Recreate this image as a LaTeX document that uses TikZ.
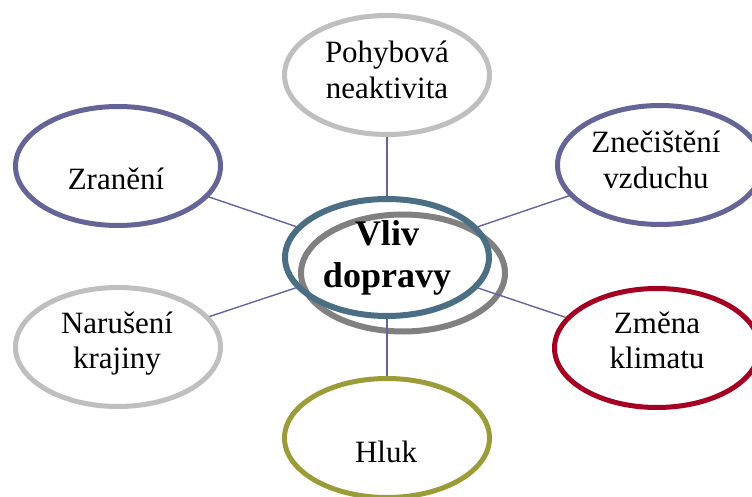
\documentclass[tikz,border=0pt]{standalone}
\usepackage{fontspec}
\setmainfont{Liberation Serif}
\usetikzlibrary{shapes.geometric}
\definecolor{cpurple}{HTML}{646496}
\definecolor{cline}{HTML}{6464A0}
\definecolor{cblue}{HTML}{4A6F85}
\definecolor{cgrey}{HTML}{808080}
\definecolor{clight}{HTML}{BFBFBF}
\definecolor{cred}{HTML}{A50021}
\definecolor{colive}{HTML}{9B9B37}
\tikzset{
  oval/.style={ellipse, draw=#1, line width=5pt, minimum width=205pt, minimum height=119pt, inner sep=0pt, fill=none},
  coreoval/.style={ellipse, draw=#1, line width=6pt, minimum width=204pt, minimum height=117pt, inner sep=0pt},
  lbl/.style={anchor=base, inner sep=0pt, font=\fontsize{31}{35.5}\selectfont},
  corelbl/.style={anchor=base, inner sep=0pt, font=\fontsize{36}{42}\selectfont\bfseries},
  conn/.style={draw=cline, line width=1.4pt}
}
\begin{document}
\begin{tikzpicture}[x=1pt,y=-1pt]
\useasboundingbox (0,0) rectangle (752,497);
% outer ellipses
\node[oval=clight] (pohyb) at (387,75) {};
\node[oval=cpurple] (zran) at (118,166) {};
\node[oval=cpurple] (znec) at (660,165) {};
\node[oval=clight] (narus) at (118,347) {};
\node[oval=cred] (zmena) at (657,348) {};
\node[oval=colive] (hluk) at (387,438) {};
% central
\node[coreoval=cgrey] (coreg) at (403,273) {};
\node[coreoval=cblue] (core) at (387,257.5) {};
% connectors
\draw[conn] (core) -- (pohyb);
\draw[conn] (core) -- (zran);
\draw[conn] (core) -- (znec);
\draw[conn] (core) -- (narus);
\draw[conn] (core) -- (zmena);
\draw[conn] (core) -- (hluk);
% texts
\renewcommand\arraystretch{1}
\setlength\tabcolsep{0pt}
\node[lbl] (tpohyb) at (387,63) {\begin{tabular}[t]{c}Pohybová\\neaktivita\end{tabular}};
\node[lbl] (tzran) at (116,190) {Zranění};
\node[lbl] (tznec) at (656,153) {\begin{tabular}[t]{c}Znečištění\\vzduchu\end{tabular}};
\node[lbl] (tnarus) at (117,333) {\begin{tabular}[t]{c}Narušení\\krajiny\end{tabular}};
\node[lbl] (tzmena) at (657,333) {\begin{tabular}[t]{c}Změna\\klimatu\end{tabular}};
\node[lbl] (thluk) at (386,462) {Hluk};
\node[corelbl] (tcore) at (387,245) {\begin{tabular}[t]{c}Vliv\\dopravy\end{tabular}};
\end{tikzpicture}
\end{document}
